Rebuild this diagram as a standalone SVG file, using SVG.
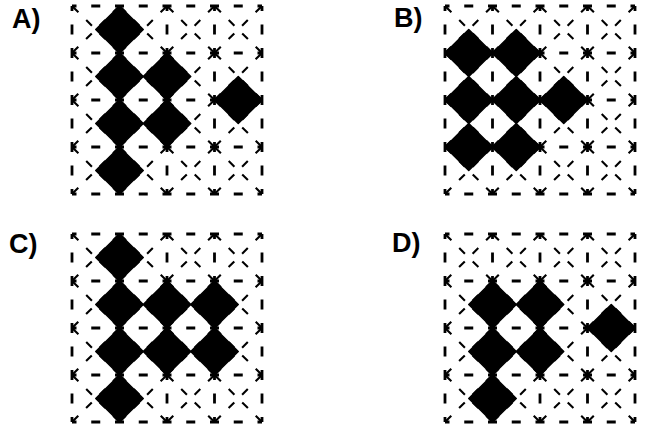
<svg xmlns="http://www.w3.org/2000/svg" xmlns:xlink="http://www.w3.org/1999/xlink" width="650" height="428" viewBox="0 0 650 428">
<style>
.lbl{font-family:"Liberation Sans",Arial,sans-serif;font-weight:bold;font-size:27px;fill:#000}
.gh{fill:none;stroke:#000;stroke-width:2.8;stroke-dasharray:9 14.75;stroke-dashoffset:4.5}
.gv{fill:none;stroke:#000;stroke-width:2.8;stroke-dasharray:10 13.5;stroke-dashoffset:5}
.dg{fill:none;stroke:#000;stroke-width:2.1;stroke-dasharray:9 11 8 11 8 11 9 0}
.dm{fill:#000;stroke:#000;stroke-width:1.5;stroke-linejoin:round}
</style>
<defs>
<g id="cell">
<path class="dg" d="M0,0L47.5,47M47.5,0L0,47"/>
</g>
<g id="grid">
<use xlink:href="#cell" href="#cell" x="0" y="0"/><use xlink:href="#cell" href="#cell" x="47.5" y="0"/><use xlink:href="#cell" href="#cell" x="95" y="0"/><use xlink:href="#cell" href="#cell" x="142.5" y="0"/>
<use xlink:href="#cell" href="#cell" x="0" y="47"/><use xlink:href="#cell" href="#cell" x="47.5" y="47"/><use xlink:href="#cell" href="#cell" x="95" y="47"/><use xlink:href="#cell" href="#cell" x="142.5" y="47"/>
<use xlink:href="#cell" href="#cell" x="0" y="94"/><use xlink:href="#cell" href="#cell" x="47.5" y="94"/><use xlink:href="#cell" href="#cell" x="95" y="94"/><use xlink:href="#cell" href="#cell" x="142.5" y="94"/>
<use xlink:href="#cell" href="#cell" x="0" y="141"/><use xlink:href="#cell" href="#cell" x="47.5" y="141"/><use xlink:href="#cell" href="#cell" x="95" y="141"/><use xlink:href="#cell" href="#cell" x="142.5" y="141"/>
<path class="gh" d="M0,0H190M0,47H190M0,94H190M0,141H190M0,188H190"/>
<path class="gv" d="M0,0V188M47.5,0V188M95,0V188M142.5,0V188M190,0V188"/>
</g>
<path id="dm" class="dm" d="M0,-23.5L23.75,0L0,23.5L-23.75,0Z"/>
</defs>

<g id="panel-A">
<text class="lbl" x="12" y="28">A)</text>
<use xlink:href="#grid" href="#grid" x="72" y="6"/>
<use xlink:href="#dm" href="#dm" x="119.5" y="29.5"/>
<use xlink:href="#dm" href="#dm" x="119.5" y="76.5"/>
<use xlink:href="#dm" href="#dm" x="167" y="76.5"/>
<use xlink:href="#dm" href="#dm" x="119.5" y="123.5"/>
<use xlink:href="#dm" href="#dm" x="167" y="123.5"/>
<use xlink:href="#dm" href="#dm" x="238.25" y="100"/>
<use xlink:href="#dm" href="#dm" x="119.5" y="170.5"/>
</g>

<g id="panel-B">
<text class="lbl" x="394" y="27">B)</text>
<use xlink:href="#grid" href="#grid" x="445" y="6"/>
<use xlink:href="#dm" href="#dm" x="468.75" y="53"/>
<use xlink:href="#dm" href="#dm" x="516.25" y="53"/>
<use xlink:href="#dm" href="#dm" x="468.75" y="100"/>
<use xlink:href="#dm" href="#dm" x="516.25" y="100"/>
<use xlink:href="#dm" href="#dm" x="563.75" y="100"/>
<use xlink:href="#dm" href="#dm" x="468.75" y="147"/>
<use xlink:href="#dm" href="#dm" x="516.25" y="147"/>
</g>

<g id="panel-C">
<text class="lbl" x="9" y="253">C)</text>
<use xlink:href="#grid" href="#grid" x="72" y="234"/>
<use xlink:href="#dm" href="#dm" x="119.5" y="257.5"/>
<use xlink:href="#dm" href="#dm" x="119.5" y="304.5"/>
<use xlink:href="#dm" href="#dm" x="167" y="304.5"/>
<use xlink:href="#dm" href="#dm" x="214.5" y="304.5"/>
<use xlink:href="#dm" href="#dm" x="119.5" y="351.5"/>
<use xlink:href="#dm" href="#dm" x="167" y="351.5"/>
<use xlink:href="#dm" href="#dm" x="214.5" y="351.5"/>
<use xlink:href="#dm" href="#dm" x="119.5" y="398.5"/>
</g>

<g id="panel-D">
<text class="lbl" x="392" y="252">D)</text>
<use xlink:href="#grid" href="#grid" x="445" y="234"/>
<use xlink:href="#dm" href="#dm" x="492.5" y="304.5"/>
<use xlink:href="#dm" href="#dm" x="540" y="304.5"/>
<use xlink:href="#dm" href="#dm" x="492.5" y="351.5"/>
<use xlink:href="#dm" href="#dm" x="540" y="351.5"/>
<use xlink:href="#dm" href="#dm" x="611.25" y="328"/>
<use xlink:href="#dm" href="#dm" x="492.5" y="398.5"/>
</g>
</svg>
